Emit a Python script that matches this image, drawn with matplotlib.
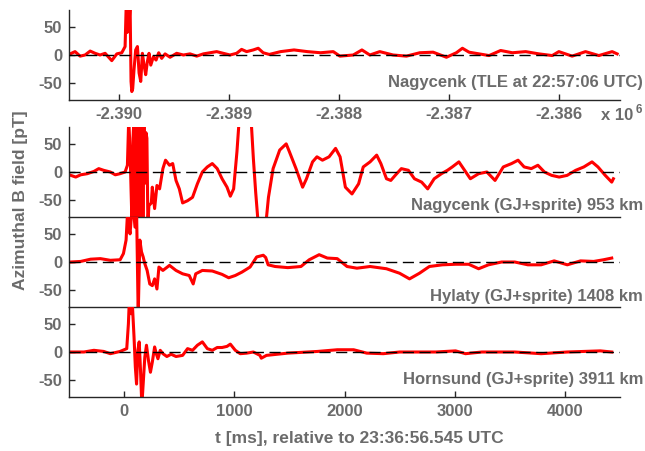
import matplotlib
matplotlib.use("Agg")
import matplotlib.pyplot as plt
import numpy as np

plt.rcParams["font.family"] = ["Liberation Sans", "DejaVu Sans"]
plt.rcParams["font.weight"] = "bold"
plt.rcParams["axes.unicode_minus"] = False

GREY = "#6b6b6b"
AXC = "#262626"

# time axis of the lower panels [ms], relative to 23:36:56.545 UTC
x_ticks = [0, 1000, 2000, 3000, 4000]
y_ticks = [-50, 0, 50]

# top panel (TLE at 22:57:06 UTC), times relative to its own trigger
top_offset = -2389950
top_ticks = [-2390000, -2389000, -2388000, -2387000, -2386000]
top_t = [-490, -445, -399, -354, -308, -263, -218, -172, -112, -66,
         -21, 9, 20, 28, 35, 45, 54, 63, 70, 78,
         90, 105, 121, 136, 151, 166, 181, 196, 211, 226,
         242, 266, 290, 314, 341, 372, 417, 477, 538, 598,
         659, 719, 780, 840, 900, 961, 1021, 1066, 1112, 1172,
         1217, 1262, 1317, 1420, 1542, 1663, 1783, 1898, 1958, 2079,
         2158, 2230, 2320, 2441, 2562, 2683, 2804, 2925, 3015, 3070,
         3130, 3221, 3312, 3417, 3523, 3644, 3764, 3885, 3945, 4066,
         4187, 4308, 4429, 4474]
top_b = [2, 6, -2, 0, 7, 3, 0, 3, -10, 2,
         4, 15, 95, 40, 95, 50, 95, -47, -65, -60,
         -26, 9, 15, -32, -47, 3, -18, -35, -12, 3,
         -18, -3, -9, 4, -6, 2, -4, 3, 0, 2,
         -2, 2, 4, 6, 3, 0, 3, 10, 6, 9,
         12, 4, 1, 6, 9, 6, 4, 6, -2, 0,
         9, 0, 6, 0, -2, 4, 5, -4, 4, 12,
         5, 2, -1, 8, 4, 6, 2, -1, 6, -2,
         6, -1, 6, 2]

# Nagycenk (GJ+sprite) 953 km
nag_t = [-483, -439, -394, -334, -274, -230, -185, -125, -80, -36,
         9, 30, 42, 54, 63, 72, 81, 90, 99, 108,
         117, 126, 135, 144, 153, 162, 171, 180, 189, 198,
         207, 216, 225, 247, 256, 277, 298, 322, 352, 376,
         412, 441, 471, 501, 531, 576, 621, 665, 710, 755,
         800, 845, 889, 934, 964, 994, 1024, 1045, 1080, 1120,
         1152, 1173, 1194, 1218, 1285, 1310, 1352, 1412, 1471, 1500,
         1560, 1620, 1655, 1710, 1750, 1800, 1860, 1919, 1960, 2008,
         2068, 2128, 2170, 2232, 2292, 2330, 2381, 2420, 2460, 2516,
         2580, 2635, 2700, 2755, 2814, 2880, 2934, 2978, 3038, 3090,
         3142, 3217, 3292, 3366, 3441, 3516, 3575, 3630, 3695, 3755,
         3814, 3880, 3948, 4020, 4098, 4172, 4246, 4300, 4366, 4425,
         4440]
nag_b = [-6, -9, -5, -3, 1, 6, 3, 0, -5, -3,
         0, 12, 95, 40, -30, -95, 60, 95, -95, 95,
         -90, 95, -95, 90, -60, 95, -95, 85, -20, 70,
         60, -95, -60, -55, -27, -65, -24, -30, 6, 21,
         12, 15, -15, -30, -55, -51, -45, -21, 0, 9,
         15, 6, -12, -27, -43, -30, 36, 95, 130, 130,
         95, 24, -36, -95, -95, -45, 6, 39, 50, 36,
         6, -27, -12, 18, 27, 21, 27, 42, 27, -27,
         -39, -21, 9, 18, 30, 15, -12, -15, -6, 6,
         3, -12, -18, -30, -12, -3, 3, 9, 18, 3,
         -12, -3, 0, -15, 9, 15, 21, 9, 6, 12,
         0, -6, -9, -6, 3, 9, 18, 9, -6, -18,
         -12]

# Hylaty (GJ+sprite) 1408 km
hyl_t = [-483, -394, -304, -215, -125, -36, -6, 18, 33, 45,
         54, 69, 84, 99, 113, 128, 143, 158, 173, 188,
         209, 233, 256, 277, 298, 316, 352, 412, 471, 531,
         591, 627, 650, 710, 800, 889, 949, 1009, 1069, 1143,
         1203, 1263, 1285, 1307, 1370, 1486, 1605, 1680, 1770, 1844,
         1934, 2023, 2113, 2232, 2381, 2500, 2590, 2680, 2770, 2889,
         3008, 3127, 3217, 3306, 3426, 3545, 3664, 3784, 3903, 4022,
         4142, 4261, 4351, 4425]
hyl_b = [0, 1, 5, 6, 3, 4, 15, 39, 95, 60,
         50, 90, 95, 62, 95, -95, 39, 18, 9, -3,
         -15, -39, -42, -30, -48, -9, -15, -6, -15, -21,
         -24, -39, -21, -15, -16, -22, -28, -24, -18, -9,
         9, 12, 8, -5, -8, -10, -8, 4, 13, 7,
         6, -8, -11, -8, -12, -20, -30, -20, -8, -5,
         -4, -4, -12, -5, 0, 0, -5, -5, 2, -5,
         2, 1, 4, 7]

# Hornsund (GJ+sprite) 3911 km
hor_t = [-483, -364, -274, -185, -125, -36, 24, 39, 48, 63,
         75, 90, 102, 113, 125, 137, 149, 161, 173, 188,
         203, 221, 239, 256, 277, 292, 307, 328, 352, 388,
         427, 471, 531, 576, 621, 665, 710, 755, 800, 845,
         889, 934, 964, 1009, 1054, 1113, 1173, 1233, 1245, 1292,
         1486, 1755, 1934, 2083, 2202, 2352, 2500, 2650, 2829, 3008,
         3098, 3247, 3545, 3784, 4022, 4321, 4425]
hor_b = [0, 0, 3, 1, -3, 1, 6, 50, 95, 68,
         85, 27, -27, -57, 3, 18, -33, -95, -57, -9,
         12, -15, -36, -18, 9, -3, -12, 3, -3, -8,
         -4, -8, -6, 6, 3, 12, 18, 6, 3, 8,
         8, 10, 14, 3, -3, -2, 0, -6, -11, -6,
         -2, 1, 4, 4, -2, -3, 0, 0, 0, 2,
         -3, 0, 0, -3, 0, 2, 0]

labels = ["Nagycenk (TLE at 22:57:06 UTC)",
          "Nagycenk (GJ+sprite) 953 km",
          "Hylaty (GJ+sprite) 1408 km",
          "Hornsund (GJ+sprite) 3911 km"]

FS = 12


def style(ax):
    ax.set_facecolor("none")
    ax.spines["top"].set_visible(False)
    ax.spines["right"].set_visible(False)
    for s in ["left", "bottom"]:
        ax.spines[s].set_color(AXC)
        ax.spines[s].set_linewidth(1.0)
    ax.tick_params(direction="in", length=4, width=1, color=AXC,
                   labelcolor=GREY, labelsize=FS, pad=5)
    ax.set_ylim(-80, 80)
    ax.set_yticks(y_ticks)
    ax.set_yticklabels([str(v) for v in y_ticks])
    ax.axhline(0, color="black", lw=1, ls=(0, (8, 4)), zorder=3)


fig = plt.figure(figsize=(6.45, 4.51), dpi=100)
L, W, H = 69 / 645, 551 / 645, 90 / 451

ax_top = fig.add_axes([L, 1 - 100 / 451, W, H])
ax_top.plot(np.array(top_t) + top_offset, top_b, color="red", lw=2.2, zorder=2)
style(ax_top)
ax_top.set_xlim(-500 + top_offset, 4500 + top_offset)
ax_top.set_xticks(top_ticks)
ax_top.set_xticklabels([f"{v / 1e6:.3f}" for v in top_ticks])

panels = []
series = [(nag_t, nag_b), (hyl_t, hyl_b), (hor_t, hor_b)]
for i, (t, b) in enumerate(series):
    bottom_px = 217 + 90 * i
    ax = fig.add_axes([L, 1 - bottom_px / 451, W, H])
    ax.plot(t, b, color="red", lw=2.2, zorder=2)
    style(ax)
    ax.set_xlim(-500, 4500)
    if i < 2:
        ax.tick_params(axis="x", bottom=False, labelbottom=False)
    else:
        ax.set_xticks(x_ticks)
        ax.set_xticklabels([str(v) for v in x_ticks])
    panels.append(ax)

# station labels, right-aligned just past the axes
label_y = [0.19, 0.133, 0.12, 0.19]
for ax, txt, yy in zip([ax_top] + panels, labels, label_y):
    tr = matplotlib.transforms.blended_transform_factory(fig.transFigure, ax.transAxes)
    ax.text(0.997, yy, txt, transform=tr, ha="right", va="center",
            fontsize=FS, color=GREY, clip_on=False)

fig.text(601 / 645, 1 - 116 / 451, "x 10", ha="left", va="center",
         fontsize=FS, color=GREY)
fig.text(636 / 645, 1 - 110 / 451, "6", ha="left", va="center",
         fontsize=8.5, color=GREY)

fig.text(21 / 645, 1 - 200 / 451, "Azimuthal B field [pT]", rotation=90,
         ha="center", va="center", fontsize=12.5, color=GREY)
fig.text(359 / 645, 1 - 438 / 451, "t [ms], relative to 23:36:56.545 UTC",
         ha="center", va="center", fontsize=12.5, color=GREY)

fig.savefig("out.png", dpi=100)
